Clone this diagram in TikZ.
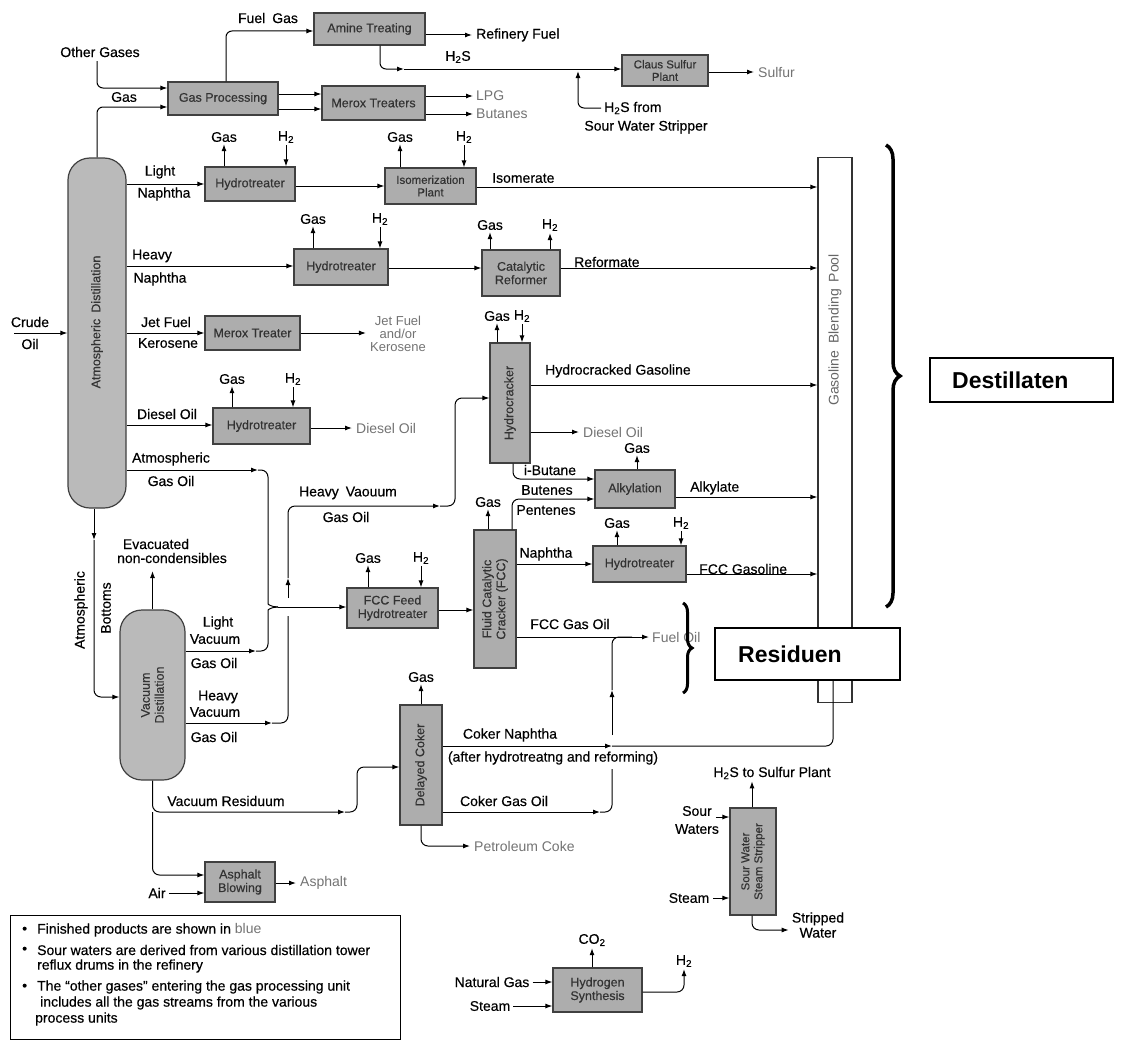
\documentclass[tikz,border=0pt]{standalone}
\usepackage{fontspec}
\setmainfont{Liberation Sans}
\newfontfamily\medfont{Liberation Sans}[FakeBold=0.4]
\usetikzlibrary{arrows.meta,decorations.pathreplacing}
\tikzset{
  box/.style={draw=black!75, line width=1.2pt, fill=black!32, font=\medfont\fontsize{12.5}{13.5}\selectfont, text=black!80, align=center, inner sep=1pt},
  col/.style={draw=black!75, line width=1.2pt, fill=black!27, rounded corners=22pt},
  vt/.style={rotate=90, align=center, font=\medfont\fontsize{12.5}{14}\selectfont, text=black!80, inner sep=0pt},
  lbl/.style={font=\medfont\fontsize{14}{15}\selectfont, inner sep=0pt, align=center},
  prod/.style={font=\fontsize{14}{15}\selectfont, text=black!55, inner sep=0pt, align=center},
  leg/.style={font=\medfont\fontsize{14}{15}\selectfont, inner sep=0pt, anchor=west},
  fl/.style={line width=1pt, -{Latex[length=7pt,width=5pt]}},
  ln/.style={line width=1pt},
  bigbrace/.style={line width=3.5pt, decorate},
}
\begin{document}
\begin{tikzpicture}[x=1pt,y=-1pt]
\useasboundingbox (0,0) rectangle (1123,1041);

% ---------- pool and result boxes ----------
\node[draw=black!80, line width=1.2pt, fill=white, minimum width=34, minimum height=545, anchor=north] (POOL) at (835,157) {};
\node[rotate=90, font=\fontsize{14}{15}\selectfont, text=black!60] (POOLt) at (835,330) {Gasoline\enspace Blending\enspace Pool};
\node[draw, line width=1.6pt, fill=white, minimum width=185, minimum height=52] (RES) at (807.5,654) {};
\node[font=\fontsize{23}{26}\selectfont\bfseries, anchor=west, inner sep=0pt] (RESt) at (738,654) {Residuen};
\node[draw, line width=1.6pt, fill=white, minimum width=183, minimum height=44] (DEST) at (1021.5,380) {};
\node[font=\fontsize{23}{26}\selectfont\bfseries, anchor=west, inner sep=0pt] (DESTt) at (952,380) {Destillaten};

% ---------- units ----------
\node[box, minimum width=110, minimum height=33] (GP) at (223,98.5) {Gas Processing};
\node[box, minimum width=111, minimum height=32] (AT) at (369.5,29) {Amine Treating};
\node[box, minimum width=103, minimum height=34] (MT) at (373.5,103) {Merox Treaters};
\node[box, minimum width=86, minimum height=31, font=\medfont\fontsize{11.5}{12.5}\selectfont] (CS) at (665,70.5) {Claus Sulfur\\Plant};
\node[col, minimum width=58, minimum height=350] (ATM) at (97,333) {};
\node[vt] (ATMt) at (97,322) {Atmospheric\enspace Distillation};
\node[box, minimum width=90, minimum height=34] (HT1) at (250,184) {Hydrotreater};
\node[box, minimum width=91, minimum height=36, font=\medfont\fontsize{11.5}{12.5}\selectfont] (IP) at (430.5,186) {Isomerization\\Plant};
\node[box, minimum width=94, minimum height=36] (HT2) at (341,267) {Hydrotreater};
\node[box, minimum width=78, minimum height=46] (CR) at (521,273) {Catalytic\\Reformer};
\node[box, minimum width=95, minimum height=34] (MXT) at (252.5,333) {Merox Treater};
\node[box, minimum width=97, minimum height=36] (HT3) at (261.5,426) {Hydrotreater};
\node[box, minimum width=40, minimum height=120] (HC) at (510,403) {};
\node[vt] (HCt) at (HC) {Hydrocracker};
\node[box, minimum width=80, minimum height=38] (ALK) at (635,489) {Alkylation};
\node[box, minimum width=91, minimum height=40] (FFH) at (392.5,608) {FCC Feed\\Hydrotreater};
\node[box, minimum width=42, minimum height=138] (FCC) at (495,599) {};
\node[vt] (FCCt) at (FCC) {Fluid Catalytic\\Cracker (FCC)};
\node[box, minimum width=93, minimum height=36] (HT4) at (639.5,564) {Hydrotreater};
\node[col, minimum width=65, minimum height=170] (VAC) at (152.5,695) {};
\node[vt] (VACt) at (VAC) {Vacuum\\Distillation};
\node[box, minimum width=42, minimum height=120] (DC) at (421,765) {};
\node[vt] (DCt) at (DC) {Delayed Coker};
\node[box, minimum width=70, minimum height=40] (AB) at (240,882) {Asphalt\\Blowing};
\node[box, minimum width=46, minimum height=107] (SWS) at (753,861.5) {};
\node[vt, font=\medfont\fontsize{11.5}{13}\selectfont] (SWSt) at (SWS) {Sour Water\\Steam Stripper};
\node[box, minimum width=89, minimum height=44] (HS) at (597.5,990) {Hydrogen\\Synthesis};

% ---------- gas / H2 labels ----------
\node[lbl] (g1) at (224,137) {Gas};   \node[lbl] (h1) at (286,137) {H\textsubscript{2}};
\node[lbl] (g2) at (400,137) {Gas};   \node[lbl] (h2) at (464,137) {H\textsubscript{2}};
\node[lbl] (g3) at (313,219) {Gas};   \node[lbl] (h3) at (380,219) {H\textsubscript{2}};
\node[lbl] (g4) at (490,225) {Gas};   \node[lbl] (h4) at (550,225) {H\textsubscript{2}};
\node[lbl] (g5) at (232,379) {Gas};   \node[lbl] (h5) at (293,379) {H\textsubscript{2}};
\node[lbl] (g6) at (497,316) {Gas};   \node[lbl] (h6) at (522,316) {H\textsubscript{2}};
\node[lbl] (g7) at (637,448) {Gas};
\node[lbl] (g8) at (368,558) {Gas};   \node[lbl] (h8) at (421,558) {H\textsubscript{2}};
\node[lbl] (g9) at (488,502) {Gas};
\node[lbl] (g10) at (617,523) {Gas};  \node[lbl] (h10) at (681,523) {H\textsubscript{2}};
\node[lbl] (g11) at (421,677) {Gas};

\draw[fl, shorten >=2pt] (HT1.north -| g1.south) -- (g1.south);
\draw[fl, shorten <=2pt] (h1.south) -- (HT1.north -| h1.south);
\draw[fl, shorten >=2pt] (IP.north -| g2.south) -- (g2.south);
\draw[fl, shorten <=2pt] (h2.south) -- (IP.north -| h2.south);
\draw[fl, shorten >=2pt] (HT2.north -| g3.south) -- (g3.south);
\draw[fl, shorten <=2pt] (h3.south) -- (HT2.north -| h3.south);
\draw[fl, shorten >=2pt] (CR.north -| g4.south) -- (g4.south);
\draw[fl, shorten >=2pt] (CR.north -| h4.south) -- (h4.south);
\draw[fl, shorten >=2pt] (HT3.north -| g5.south) -- (g5.south);
\draw[fl, shorten <=2pt] (h5.south) -- (HT3.north -| h5.south);
\draw[fl, shorten >=2pt] (HC.north -| g6.south) -- (g6.south);
\draw[fl, shorten <=2pt] (h6.south) -- (HC.north -| h6.south);
\draw[fl, shorten >=2pt] (ALK.north -| g7.south) -- (g7.south);
\draw[fl, shorten >=2pt] (FFH.north -| g8.south) -- (g8.south);
\draw[fl, shorten <=2pt] (h8.south) -- (FFH.north -| h8.south);
\draw[fl, shorten >=2pt] (FCC.north -| g9.south) -- (g9.south);
\draw[fl, shorten >=2pt] (HT4.north -| g10.south) -- (g10.south);
\draw[fl, shorten <=2pt] (h10.south) -- (HT4.north -| h10.south);
\draw[fl, shorten >=2pt] (DC.north -| g11.south) -- (g11.south);

% ---------- top: gases ----------
\node[lbl] (tOther) at (100,52) {Other Gases};
\draw[fl, rounded corners=6] (97,61) |- (GP.west |- 0,88);
\draw[fl, rounded corners=6] (ATM.north) |- (GP.west |- 0,107);
\node[lbl] (tGas0) at (124,97) {Gas};
\draw[fl, rounded corners=6] (GP.north -| 226,0) |- (AT.west |- 0,31);
\node[lbl] (tFuelGas) at (268,18) {Fuel\enspace Gas};
\node[lbl, anchor=west] (tRF) at (476,35) {Refinery Fuel};
\draw[fl, shorten >=4pt] (AT.east |- tRF) -- (tRF.west);
\coordinate (h2sA) at (404,69);
\draw[fl, rounded corners=6] (AT.south -| 380,0) |- (h2sA);
\draw[fl] (h2sA) -- (CS.west |- h2sA);
\node[lbl] (tH2S) at (458,57) {H\textsubscript{2}S};
\node[lbl, anchor=west] (tH2Sfrom) at (604,108) {H\textsubscript{2}S from};
\node[lbl] (tSWSr) at (646,127) {Sour Water Stripper};
\draw[fl, rounded corners=6, shorten <=3pt] (tH2Sfrom.west) -| (578,71);
\node[prod, anchor=west] (tSulfur) at (758,72) {Sulfur};
\draw[fl, shorten >=4pt] (CS.east |- tSulfur) -- (tSulfur.west);
\draw[fl] (GP.east |- 0,94) -- (MT.west |- 0,94);
\draw[fl] (GP.east |- 0,109) -- (MT.west |- 0,109);
\node[prod, anchor=west] (tLPG) at (476,96) {LPG};
\node[prod, anchor=west] (tBut) at (476,114) {Butanes};
\draw[fl, shorten >=3pt] (MT.east |- tLPG) -- (tLPG.west);
\draw[fl, shorten >=3pt] (MT.east |- tBut) -- (tBut.west);

% ---------- atmospheric column ----------
\node[lbl] (tCrude) at (30,322) {Crude};
\node[lbl] (tOil) at (30,344) {Oil};
\draw[fl] (14,333) -- (ATM.west |- 0,333);

\node[lbl] (tLight) at (160,172) {Light};
\node[lbl] (tNaph1) at (164,194) {Naphtha};
\draw[fl] (ATM.east |- HT1) -- (HT1.west);
\draw[fl] (HT1.east |- 0,186) -- (IP.west |- 0,186);
\draw[fl] (IP.east |- 0,187) -- (POOL.west |- 0,187);
\node[lbl, anchor=west] (tIso) at (492,178) {Isomerate};

\node[lbl] (tHeavy) at (152,256) {Heavy};
\node[lbl] (tNaph2) at (160,279) {Naphtha};
\draw[fl] (ATM.east |- 0,266) -- (HT2.west |- 0,266);
\draw[fl] (HT2.east |- 0,268) -- (CR.west |- 0,268);
\draw[fl] (CR.east |- 0,268) -- (POOL.west |- 0,268);
\node[lbl, anchor=west] (tRef) at (574,262) {Reformate};

\node[lbl] (tJet) at (166,322) {Jet Fuel};
\node[lbl] (tKer) at (168,343) {Kerosene};
\draw[fl] (ATM.east |- MXT) -- (MXT.west);
\node[prod, font=\fontsize{13}{13}\selectfont] (tJetP) at (398,334) {Jet Fuel\\and/or\\Kerosene};
\draw[fl, shorten >=4pt] (MXT.east) -- (tJetP.west |- MXT.east);

\node[lbl] (tDiesel) at (167,414) {Diesel Oil};
\draw[fl] (ATM.east |- 0,425) -- (HT3.west |- 0,425);
\node[prod, anchor=west] (tDiesel1) at (356,428) {Diesel Oil};
\draw[fl, shorten >=4pt] (HT3.east |- tDiesel1) -- (tDiesel1.west);

\node[lbl] (tAtm) at (171,459) {Atmospheric};
\node[lbl] (tAGO) at (171,481) {Gas Oil};
\coordinate (agoA) at (258,470);
\coordinate (jct) at (278,607);
\draw[fl] (ATM.east |- agoA) -- (agoA);
\draw[ln, rounded corners=7] (agoA) -| (268,597) .. controls (268,604) and (271,607) .. (jct);
\draw[fl] (jct) -- (FFH.west |- jct);

% ---------- vacuum column ----------
\node[lbl] (tEvac) at (156,544) {Evacuated};
\node[lbl] (tNonc) at (172,558) {non-condensibles};
\draw[fl] (VAC.north) -- (VAC.north |- 0,571);
\coordinate (abA) at (94,540);
\draw[fl] (ATM.south -| abA) -- (abA);
\draw[fl, rounded corners=7] (abA) |- (VAC.west |- 0,697);
\node[lbl, rotate=90] (tAtmB1) at (81,610) {Atmospheric};
\node[lbl, rotate=90] (tAtmB2) at (106,608) {Bottoms};

\node[lbl] (tLV1) at (218,623) {Light};
\node[lbl] (tLV2) at (215,639) {Vacuum};
\node[lbl] (tLV3) at (214,663) {Gas Oil};
\coordinate (lvA) at (256,651);
\draw[fl] (VAC.east |- lvA) -- (lvA);
\draw[ln, rounded corners=7] (lvA) -| (268,617) .. controls (268,610) and (271,607) .. (jct);

\node[lbl] (tHV1) at (218,697) {Heavy};
\node[lbl] (tHV2) at (215,712) {Vacuum};
\node[lbl] (tHV3) at (214,737) {Gas Oil};
\coordinate (hvA) at (272,723);
\coordinate (hvB) at (288,578);
\coordinate (hvC) at (440,506);
\draw[fl] (VAC.east |- hvA) -- (hvA);
\draw[ln, rounded corners=7] (hvA) -| (288,616);
\draw[fl] (288,598) -- (hvB);
\draw[fl, rounded corners=7] (hvB) |- (hvC);
\draw[fl, rounded corners=7] (hvC) -| (455,398) -- (HC.west |- 0,398);
\node[lbl] (tHVG1) at (348,493) {Heavy\enspace Vaouum};
\node[lbl] (tHVG2) at (346,517) {Gas Oil};

\coordinate (vrA) at (345,812);
\draw[fl, rounded corners=7] (VAC.south) |- (vrA);
\draw[fl, rounded corners=7] (vrA) -| (357,767) -- (DC.west |- 0,767);
\node[lbl] (tVR) at (226,801) {Vacuum Residuum};
\draw[fl, rounded corners=7] (VAC.south |- vrA) |- (AB.west |- 0,875);
\node[lbl] (tAir) at (157,893) {Air};
\draw[fl, shorten <=3pt] (tAir.east) -- (AB.west |- tAir);
\node[prod, anchor=west] (tAsph) at (300,883) {Asphalt};
\draw[fl, shorten >=4pt] (AB.east |- tAsph) -- (tAsph.west);

% ---------- hydrocracker / alkylation / FCC ----------
\node[lbl, anchor=west] (tHCG) at (545,371) {Hydrocracked Gasoline};
\draw[fl] (HC.east |- 0,385) -- (POOL.west |- 0,385);
\node[prod, anchor=west] (tDiesel2) at (583,432) {Diesel Oil};
\draw[fl, shorten >=4pt] (HC.east |- tDiesel2) -- (tDiesel2.west);
\draw[fl, rounded corners=7] (HC.south -| 513,0) |- (ALK.west |- 0,479);
\node[lbl] (tiBu) at (550,470) {i-Butane};
\draw[fl, rounded corners=7] (FCC.north -| 512,0) |- (ALK.west |- 0,499);
\node[lbl] (tButenes) at (547,490) {Butenes};
\node[lbl] (tPentenes) at (546,510) {Pentenes};
\draw[fl] (ALK.east |- 0,497) -- (POOL.west |- 0,497);
\node[lbl, anchor=west] (tAlky) at (690,488) {Alkylate};

\draw[fl] (FFH.east |- 0,610) -- (FCC.west |- 0,610);
\draw[fl] (FCC.east |- 0,564) -- (HT4.west |- 0,564);
\node[lbl] (tNaph3) at (546,554) {Naphtha};
\draw[fl] (HT4.east |- 0,574) -- (POOL.west |- 0,574);
\node[lbl, anchor=west] (tFCCG) at (699,569) {FCC Gasoline};
\node[lbl] (tFCCGO) at (570,624) {FCC Gas Oil};
\node[prod, anchor=west] (tFuelOil) at (652,637) {Fuel Oil};
\draw[fl, shorten >=3pt] (FCC.east |- tFuelOil) -- (tFuelOil.west);

% ---------- delayed coker ----------
\coordinate (cnA) at (612,746);
\draw[fl] (DC.east |- cnA) -- (cnA);
\draw[ln, rounded corners=7] (cnA) -| (RES.south -| 833,0);
\node[lbl] (tCN1) at (510,735) {Coker Naphtha};
\node[lbl] (tCN2) at (553,758) {(after hydrotreatng and reforming)};
\coordinate (cgA) at (600,812);
\coordinate (cgB) at (612,690);
\draw[fl] (DC.east |- cgA) -- (cgA);
\draw[ln, rounded corners=7] (cgA) -| (612,769);
\draw[fl] (612,735) -- (cgB);
\draw[ln, rounded corners=7] (cgB) |- (632,637);
\node[lbl] (tCGO) at (504,801) {Coker Gas Oil};
\node[prod, anchor=west] (tPC) at (474,846) {Petroleum Coke};
\draw[fl, rounded corners=7, shorten >=4pt] (DC.south) |- (tPC.west);

% ---------- sour water stripper ----------
\node[lbl] (tH2Ssp) at (772,773) {H\textsubscript{2}S to Sulfur Plant};
\draw[fl, shorten >=2pt] (SWS.north -| 752,0) -- (tH2Ssp.south -| 752,0);
\node[lbl] (tSour1) at (697,811) {Sour};
\node[lbl] (tSour2) at (697,829) {Waters};
\draw[fl, shorten <=4pt] (tSour1.east |- 0,817) -- (SWS.west |- 0,817);
\node[lbl] (tSteam1) at (689,898) {Steam};
\draw[fl, shorten <=4pt] (tSteam1.east) -- (SWS.west |- tSteam1);
\node[lbl] (tStr) at (818,925) {Stripped\\Water};
\draw[fl, rounded corners=7, shorten >=3pt] (SWS.south -| 752,0) |- (tStr.west |- 0,930);

% ---------- hydrogen synthesis ----------
\node[lbl] (tNG) at (492,982) {Natural Gas};
\draw[fl, shorten <=3pt] (tNG.east) -- (HS.west |- tNG);
\node[lbl] (tSteam2) at (490,1006) {Steam};
\draw[fl, shorten <=3pt] (tSteam2.east) -- (HS.west |- tSteam2);
\node[lbl] (tCO2) at (592,940) {CO\textsubscript{2}};
\draw[fl, shorten >=2pt] (HS.north -| tCO2) -- (tCO2.south);
\node[lbl] (tH2hs) at (684,961) {H\textsubscript{2}};
\draw[fl, rounded corners=7, shorten >=2pt] (HS.east |- 0,992) -| (tH2hs.south);

% ---------- braces ----------
\draw[bigbrace, decoration={brace, amplitude=14pt}] (886,145) -- (886,607);
\draw[line width=3pt, decorate, decoration={brace, amplitude=9pt}] (683,603) -- (683,693);

% ---------- legend ----------
\node[draw, line width=1pt, minimum width=390, minimum height=124, anchor=north west] (LEG) at (10,915) {};
\node[leg] (B1) at (22,930) {•};
\node[leg] (L1) at (37,930) {Finished products are shown in {\normalfont\color{black!55}blue}};
\node[leg] (B2) at (22,950) {•};
\node[leg] (L2) at (37,950) {Sour waters are derived from various distillation tower};
\node[leg] (L3) at (37,966) {reflux drums in the refinery};
\node[leg] (B4) at (22,987) {•};
\node[leg] (L4) at (37,987) {The “other gases” entering the gas processing unit};
\node[leg] (L5) at (40,1003) {includes all the gas streams from the various};
\node[leg] (L6) at (35,1019) {process units};
\end{tikzpicture}
\end{document}
